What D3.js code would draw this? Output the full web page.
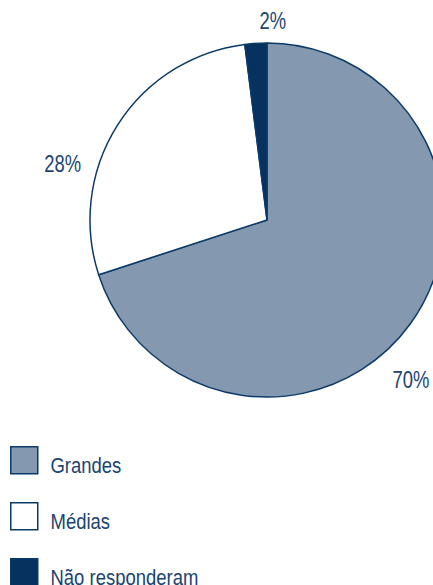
<!DOCTYPE html>
<html>
<head>
<meta charset="utf-8">
<script src="https://cdn.jsdelivr.net/npm/d3@7"></script>
<style>
  html, body { margin: 0; padding: 0; background: #fff; }
  svg { display: block; }
  text { font-family: "Liberation Sans", Arial, sans-serif; fill: #1b4470; }
</style>
</head>
<body>
<svg id="chart" width="433" height="585"></svg>
<script>
// Company size distribution
const categories = ["Grandes", "Médias", "Não responderam"];
const values = [70, 28, 2];
const labels = ["70%", "28%", "2%"];
const colors = ["#8499b0", "#ffffff", "#06325f"];

const svg = d3.select("#chart");
const cx = 267, cy = 220, radius = 177;
const stroke = "#0b3a68";
const fontSize = 22;
const narrow = 0.84; // horizontal squeeze to get a condensed face

const pie = d3.pie().sort(null).value(d => d)(values);
const arc = d3.arc().innerRadius(0).outerRadius(radius);

const g = svg.append("g").attr("transform", `translate(${cx},${cy})`);
g.selectAll("path.slice")
  .data(pie)
  .join("path")
  .attr("class", "slice")
  .attr("d", arc)
  .attr("fill", (d, i) => colors[i])
  .attr("stroke", stroke)
  .attr("stroke-width", 1.5)
  .attr("stroke-linejoin", "round");

// Percentage labels: polar placement, shifted from each slice's mid-angle
const labelLayout = [
  { r: 215, shift: 12 },
  { r: 212, shift: -17 },
  { r: 199, shift: 5.3 }
];
g.selectAll("text.pct")
  .data(pie)
  .join("text")
  .attr("class", "pct")
  .attr("text-anchor", "middle")
  .attr("dominant-baseline", "central")
  .attr("font-size", fontSize + 1)
  .attr("transform", (d, i) => {
    const a = (d.startAngle + d.endAngle) / 2 + labelLayout[i].shift * Math.PI / 180;
    const r = labelLayout[i].r;
    return `translate(${r * Math.sin(a)},${-r * Math.cos(a)}) scale(${narrow - 0.04},1)`;
  })
  .text((d, i) => labels[i]);

// Legend
const legend = svg.append("g").attr("transform", "translate(10,446)");
const rowY = d3.scalePoint().domain(categories).range([0, 112]);
const item = legend.selectAll("g.item")
  .data(categories)
  .join("g")
  .attr("class", "item")
  .attr("transform", d => `translate(0,${rowY(d)})`);
item.append("rect")
  .attr("x", 0.75).attr("y", 0.75)
  .attr("width", 27).attr("height", 27)
  .attr("fill", (d, i) => colors[i])
  .attr("stroke", stroke)
  .attr("stroke-width", 1.5);
item.append("text")
  .attr("transform", `translate(40.5,26.5) scale(${narrow},1)`)
  .attr("font-size", fontSize)
  .text(d => d);
</script>
</body>
</html>
